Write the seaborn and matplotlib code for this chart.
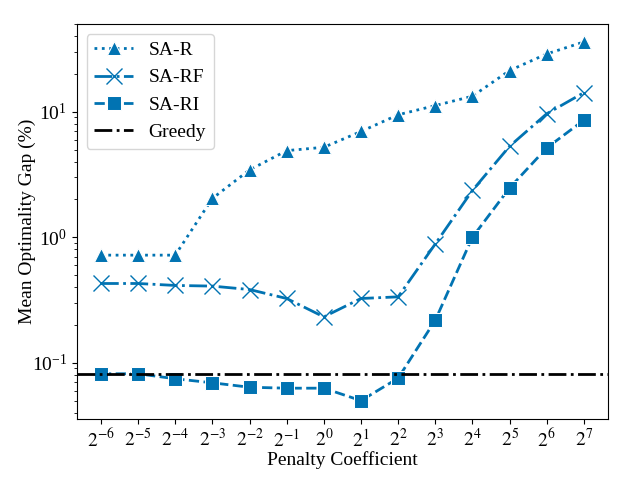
import matplotlib
matplotlib.use("Agg")
import matplotlib.pyplot as plt
import seaborn as sns
import pandas as pd

exponents = [-6, -5, -4, -3, -2, -1, 0, 1, 2, 3, 4, 5, 6, 7]
sa_r = [0.72, 0.72, 0.72, 2.04, 3.44, 4.90, 5.21, 6.96, 9.46, 11.2, 13.3, 21.3, 28.9, 36.0]
sa_rf = [0.428, 0.428, 0.413, 0.408, 0.383, 0.325, 0.232, 0.325, 0.335, 0.884, 2.36, 5.31, 9.64, 14.2]
sa_ri = [0.0817, 0.0817, 0.0745, 0.0692, 0.0638, 0.0627, 0.0627, 0.0499, 0.0753, 0.218, 1.0, 2.47, 5.15, 8.57]
greedy = 0.082

plt.rcParams['font.family'] = ['Liberation Serif', 'DejaVu Serif']
plt.rcParams['mathtext.fontset'] = 'stix'

blue = sns.color_palette("colorblind")[0]
labels = ['$2^{%d}$' % e for e in exponents]

fig, ax = plt.subplots(figsize=(6.4, 4.8), dpi=100)

# name, values, marker, linestyle, marker size
series = [("SA-R", sa_r, "^", ":", 10), ("SA-RF", sa_rf, "x", "-.", 11), ("SA-RI", sa_ri, "s", "--", 9.5)]
for name, vals, mk, ls, ms in series:
    df = pd.DataFrame({"coef": labels, "gap": vals})
    kws = dict(markersize=ms)
    if mk == "x":
        kws.update(markeredgecolor=blue, markeredgewidth=1.0)
    sns.lineplot(data=df, x="coef", y="gap", ax=ax, color=blue, marker=mk,
                 linestyle=ls, linewidth=2, label=name, sort=False, **kws)

ax.axhline(greedy, color="black", linestyle="-.", linewidth=2, label="Greedy")

ax.set_yscale("log")
ax.set_xlabel("Penalty Coefficient", fontsize=14, labelpad=0.5)
ax.set_ylabel("Mean Optimality Gap (%)", fontsize=14, labelpad=-3)
ax.tick_params(axis="both", which="major", labelsize=14)
ax.legend(loc="upper left", fontsize=14)

plt.subplots_adjust(left=0.12, right=0.95, top=0.95, bottom=0.128)
plt.savefig("out.png")
